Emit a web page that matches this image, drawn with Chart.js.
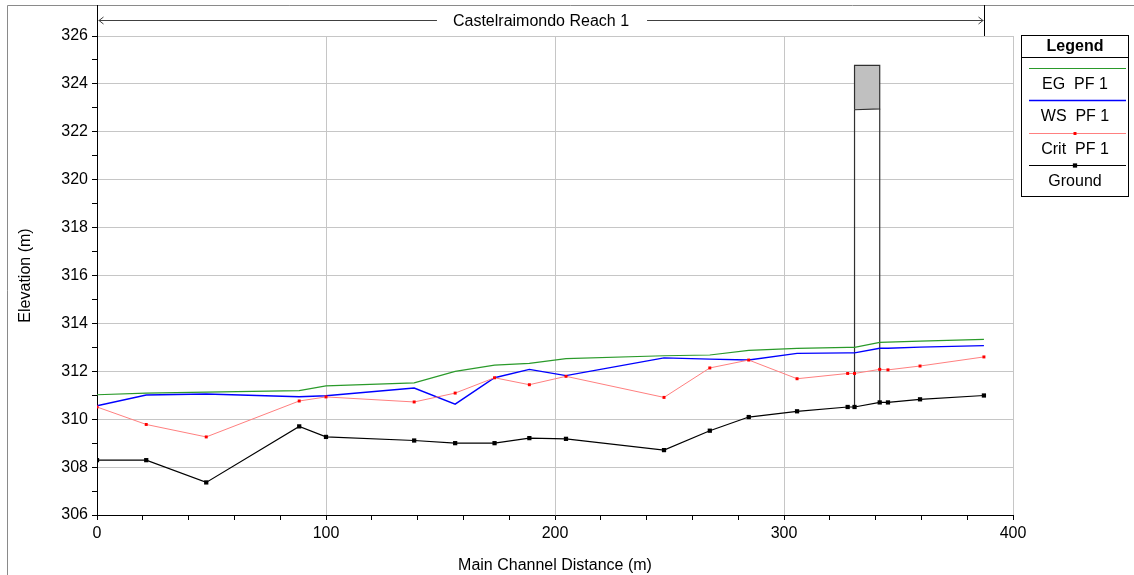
<!DOCTYPE html>
<html><head><meta charset="utf-8">
<script src="https://cdn.jsdelivr.net/npm/chart.js@4"></script>
<style>html,body{margin:0;padding:0;background:#fff;}canvas{display:block;}</style>
</head><body>
<canvas id="c" width="1134" height="575"></canvas>
<script>
// ---- data ----
const stations   = [0, 21.5, 47.7, 88.3, 100, 138.5, 156.4, 173.6, 188.8, 204.8, 247.6, 267.6, 284.6, 305.7, 327.8, 330.8, 341.8, 345.4, 359.4, 387.3];
const groundElev = [308.29, 308.29, 307.36, 309.70, 309.26, 309.11, 309.00, 309.00, 309.21, 309.18, 308.71, 309.52, 310.09, 310.33, 310.51, 310.51, 310.70, 310.70, 310.83, 310.99];
const critElev   = [310.51, 309.78, 309.26, 310.76, 310.93, 310.72, 311.09, 311.73, 311.44, 311.79, 310.91, 312.14, 312.47, 311.69, 311.91, 311.91, 312.08, 312.06, 312.22, 312.60];
const wsElev     = [310.56, 311.01, 311.05, 310.94, 310.98, 311.30, 310.63, 311.73, 312.08, 311.82, 312.56, 312.51, 312.47, 312.75, 312.77, 312.77, 312.96, 312.96, 313.01, 313.07];
const egElev     = [311.02, 311.09, 311.13, 311.19, 311.39, 311.52, 312.00, 312.26, 312.33, 312.53, 312.65, 312.68, 312.87, 312.96, 313.00, 313.00, 313.21, 313.22, 313.26, 313.33];

const bridgeStations  = [330.8, 341.8];
const bridgeHighChord = [324.77, 324.77];
const bridgeLowChord  = [322.92, 322.96];
const bridgeGround    = [310.51, 310.70];

const reachName   = 'Castelraimondo Reach 1';
const reachExtent = [0, 387.3];

const xTickLabels = [0, 100, 200, 300, 400];
const yTickLabels = [306, 308, 310, 312, 314, 316, 318, 320, 322, 324, 326];

const seriesLabels = ['EG  PF 1', 'WS  PF 1', 'Crit  PF 1', 'Ground'];

// ---- build ----
const pts = arr => stations.map((s, i) => ({x: s, y: arr[i]}));
const gridColor = '#c6c6c6';
Chart.defaults.font.family = "'Liberation Sans', Arial, sans-serif";
Chart.defaults.font.size = 16;
Chart.defaults.color = '#000';

const deck = [
  {x: bridgeStations[0], y: bridgeLowChord[0]},
  {x: bridgeStations[0], y: bridgeHighChord[0]},
  {x: bridgeStations[1], y: bridgeHighChord[1]},
  {x: bridgeStations[1], y: bridgeLowChord[1]},
  {x: bridgeStations[0], y: bridgeLowChord[0]}
];
const pierUp = [{x: bridgeStations[0], y: bridgeGround[0]}, {x: bridgeStations[0], y: bridgeLowChord[0]}];
const pierDn = [{x: bridgeStations[1], y: bridgeGround[1]}, {x: bridgeStations[1], y: bridgeLowChord[1]}];

const datasets = [
  {label: seriesLabels[0], legend: true, data: pts(egElev), borderColor: '#2a9a2a', borderWidth: 1.2, pointRadius: 0, order: 4},
  {label: seriesLabels[1], legend: true, data: pts(wsElev), borderColor: '#0000ff', borderWidth: 1.4, pointRadius: 0, order: 3},
  {label: seriesLabels[2], legend: true, data: pts(critElev), borderColor: '#ff8080', borderWidth: 1, pointStyle: 'rect', pointRadius: 2.1, pointBackgroundColor: '#ff0000', pointBorderWidth: 0, order: 2},
  {label: seriesLabels[3], legend: true, data: pts(groundElev), borderColor: '#000000', borderWidth: 1.2, pointStyle: 'rect', pointRadius: 3, pointBackgroundColor: '#000000', pointBorderWidth: 0, order: 1},
  {label: 'deck', data: deck, borderColor: '#303030', borderWidth: 1.2, backgroundColor: '#c0c0c0', fill: 'shape', pointRadius: 0, order: 6},
  {label: 'pierUp', data: pierUp, borderColor: '#303030', borderWidth: 1.2, pointRadius: 0, order: 5},
  {label: 'pierDn', data: pierDn, borderColor: '#303030', borderWidth: 1.2, pointRadius: 0, order: 5}
];

const decorPlugin = {
  id: 'decor',
  beforeDraw(chart) {
    const ctx = chart.ctx;
    ctx.save();
    ctx.fillStyle = '#fff';
    ctx.fillRect(0, 0, chart.width, chart.height);
    ctx.strokeStyle = '#8a8a8a';
    ctx.lineWidth = 1;
    ctx.beginPath();
    ctx.moveTo(7.5, chart.height); ctx.lineTo(7.5, 5.5); ctx.lineTo(chart.width, 5.5);
    ctx.stroke();
    ctx.restore();
  },
  afterDraw(chart) {
    const ctx = chart.ctx;
    const xs = chart.scales.x;
    const area = chart.chartArea;
    const x0 = Math.round(xs.getPixelForValue(reachExtent[0])) + 0.5;
    const x1 = Math.round(xs.getPixelForValue(reachExtent[1])) + 0.5;
    ctx.save();
    ctx.strokeStyle = '#000';
    ctx.lineWidth = 1;
    ctx.beginPath();
    ctx.moveTo(x0, 5); ctx.lineTo(x0, area.top);
    ctx.moveTo(x1, 5); ctx.lineTo(x1, area.top);
    ctx.stroke();
    const ay = 20.5;
    ctx.font = "16px 'Liberation Sans', Arial, sans-serif";
    ctx.textAlign = 'center';
    ctx.textBaseline = 'middle';
    const cx = (x0 + x1) / 2;
    const tw = ctx.measureText(reachName).width;
    ctx.fillStyle = '#000';
    ctx.fillText(reachName, cx, ay + 1.5);
    ctx.strokeStyle = '#404040';
    ctx.beginPath();
    ctx.moveTo(x0 + 1, ay); ctx.lineTo(cx - tw / 2 - 16, ay);
    ctx.moveTo(cx + tw / 2 + 18, ay); ctx.lineTo(x1 - 1, ay);
    ctx.moveTo(x0 + 6, ay - 3.5); ctx.lineTo(x0 + 1.5, ay); ctx.lineTo(x0 + 6, ay + 3.5);
    ctx.moveTo(x1 - 6, ay - 3.5); ctx.lineTo(x1 - 1.5, ay); ctx.lineTo(x1 - 6, ay + 3.5);
    ctx.stroke();

    const L = 1021.5, R = 1128.5, T = 35.5, B = 196.5, H = 57.5;
    ctx.strokeStyle = '#000';
    ctx.lineWidth = 1;
    ctx.strokeRect(L, T, R - L, B - T);
    ctx.beginPath(); ctx.moveTo(L, H); ctx.lineTo(R, H); ctx.stroke();
    const mid = (L + R) / 2;
    ctx.font = "bold 16px 'Liberation Sans', Arial, sans-serif";
    ctx.fillText('Legend', mid, 47);
    ctx.font = "16px 'Liberation Sans', Arial, sans-serif";
    const items = chart.data.datasets.filter(d => d.legend);
    items.forEach((d, i) => {
      const ly = Math.round(68 + i * 32.3) + 0.5;
      ctx.strokeStyle = d.borderColor;
      ctx.lineWidth = d.borderWidth;
      ctx.beginPath(); ctx.moveTo(1029, ly); ctx.lineTo(1126, ly); ctx.stroke();
      if (d.pointRadius > 0) {
        const s = d.pointRadius * Math.SQRT1_2;
        ctx.fillStyle = d.pointBackgroundColor;
        ctx.fillRect(mid - s, ly - s, 2 * s, 2 * s);
      }
      ctx.fillStyle = '#000';
      ctx.fillText(d.label, mid, ly + 16);
    });
    ctx.restore();
  }
};

new Chart(document.getElementById('c'), {
  type: 'line',
  data: {datasets},
  options: {
    responsive: false,
    devicePixelRatio: 1,
    animation: false,
    elements: {line: {tension: 0}},
    layout: {padding: {top: 36, right: 121, bottom: 0, left: 0}},
    plugins: {legend: {display: false}, tooltip: {enabled: false}},
    scales: {
      x: {
        type: 'linear', min: 0, max: 400,
        afterFit: s => { s.height = 60; },
        ticks: {stepSize: 20, autoSkip: false, maxRotation: 0, padding: 4, color: '#000', font: {size: 16},
                callback: v => xTickLabels.includes(v) ? String(v) : ''},
        grid: {color: c => (c.tick && xTickLabels.includes(c.tick.value) && c.tick.value !== 0) ? gridColor : 'rgba(0,0,0,0)',
               tickColor: '#000', tickLength: 5, lineWidth: 1, drawTicks: true},
        border: {color: '#000', width: 1},
        title: {display: true, text: 'Main Channel Distance (m)', color: '#000', font: {size: 16}, padding: {top: 0, bottom: 0}}
      },
      y: {
        type: 'linear', min: 306, max: 326,
        afterFit: s => { s.width = 97; },
        ticks: {stepSize: 1, autoSkip: false, padding: 4, color: '#000', font: {size: 16},
                callback: v => yTickLabels.includes(v) ? String(v) : ''},
        grid: {color: c => (c.tick && yTickLabels.includes(c.tick.value) && c.tick.value !== 306) ? gridColor : 'rgba(0,0,0,0)',
               tickColor: '#000', tickLength: 5, lineWidth: 1, drawTicks: true},
        border: {color: '#000', width: 1},
        title: {display: true, text: 'Elevation (m)', color: '#000', font: {size: 16}, padding: {top: 16, bottom: 0}}
      }
    }
  },
  plugins: [decorPlugin]
});
</script>
</body></html>
